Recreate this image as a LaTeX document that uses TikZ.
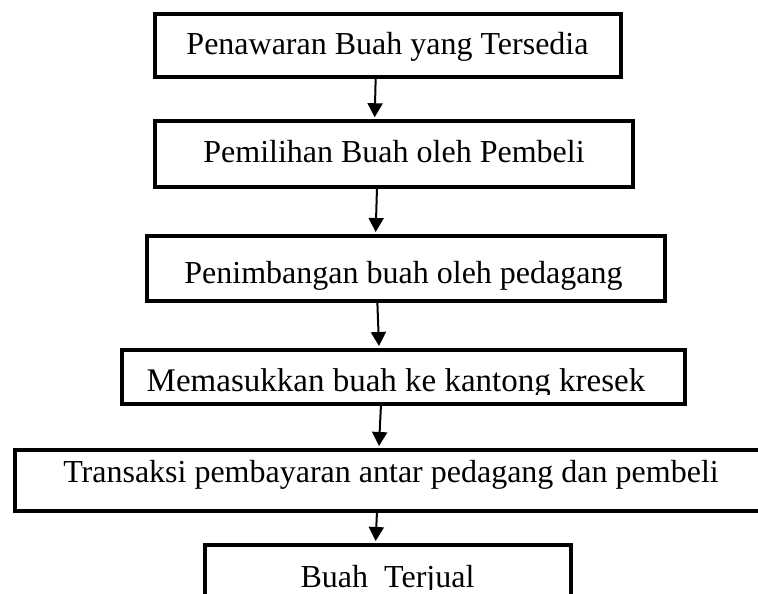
\documentclass[tikz,border=0pt]{standalone}
\usepackage{fontspec}
\setmainfont{Liberation Serif}
\usetikzlibrary{arrows.meta,calc}
\begin{document}
\begin{tikzpicture}[x=1pt,y=-1pt,
  box/.style={draw=black,line width=4pt,rectangle,inner sep=0pt,fill=white},
  lbl/.style={anchor=base,inner sep=0pt,font=\fontsize{32}{38}\selectfont},
  arr/.style={line width=2pt,-{Triangle[width=15pt,length=14pt]}}]
\useasboundingbox (0,0) rectangle (758,594);
\clip (0,0) rectangle (758,594);
\fill[white] (0,0) rectangle (758,594);
% boxes
\node[box,minimum width=466pt,minimum height=63pt] (b1) at (388,45.5) {};
\node[box,minimum width=478pt,minimum height=65.5pt] (b2) at (394,154) {};
\node[box,minimum width=518pt,minimum height=65pt] (b3) at (406,268.5) {};
\node[box,minimum width=563pt,minimum height=54pt] (b4) at (403.5,377) {};
\node[box,minimum width=785pt,minimum height=61pt] (b5) at (407.5,480.5) {};
\node[box,minimum width=366pt,minimum height=95pt] (b6) at (388,592.5) {};
% labels
\node[lbl] (t1) at (387.5,55) {Penawaran Buah yang Tersedia};
\node[lbl] (t2) at (394,162) {Pemilihan Buah oleh Pembeli};
\node[lbl] (t3) at (403.5,283) {Penimbangan buah oleh pedagang};
\begin{scope}
\clip (130,355) rectangle (680,394.5);
\node[lbl,font=\fontsize{33}{39}\selectfont] (t4) at (396,391) {Memasukkan buah ke kantong kresek};
\end{scope}
\node[lbl] (t5) at (391,482) {Transaksi pembayaran antar pedagang dan pembeli};
\begin{scope}
\clip (210,550) rectangle (565,589);
\node[lbl] (t6) at (387.5,587) {Buah~ Terjual};
\end{scope}
% arrows
\draw[arr] ($(b1.south west)+(222.7,-2)$) -- ($(b2.north west)+(221.7,-2)$);
\draw[arr] ($(b2.south west)+(224,-2)$) -- ($(b3.north west)+(230.7,-2)$);
\draw[arr] ($(b3.south west)+(232.3,-2)$) -- ($(b4.north west)+(259,-2)$);
\draw[arr] ($(b4.south west)+(261,-2)$) -- ($(b5.north west)+(366,-2)$);
\draw[arr] ($(b5.south west)+(364,-2)$) -- ($(b6.north west)+(172.7,-2)$);
\end{tikzpicture}
\end{document}
